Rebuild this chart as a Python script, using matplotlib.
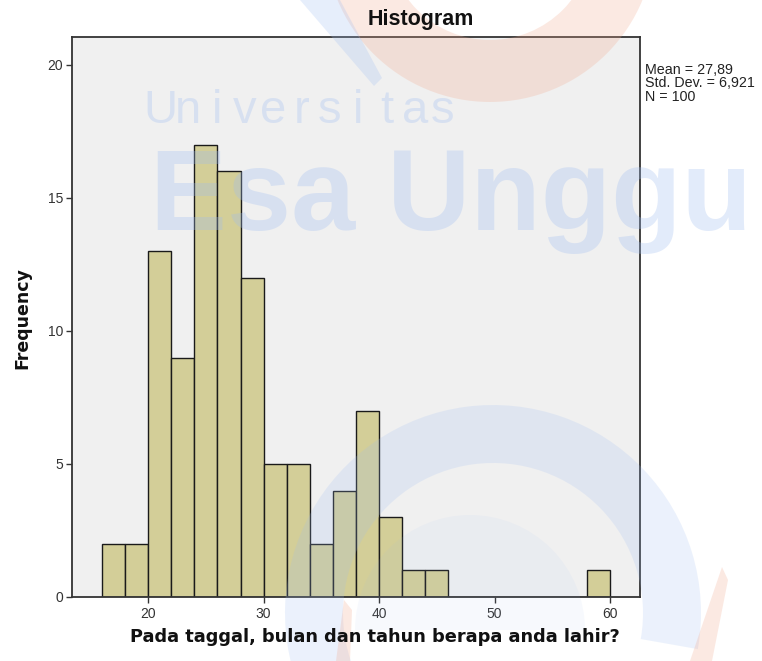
import numpy as np
import matplotlib
matplotlib.use('Agg')
import matplotlib.pyplot as plt
from matplotlib.patches import Wedge, Polygon

# histogram data (bin width 2, first bin starts at 16)
bin_left = list(range(16, 60, 2))
counts = [2, 2, 13, 9, 17, 16, 12, 5, 5, 2, 4, 7, 3, 1, 1,
          0, 0, 0, 0, 0, 0, 1]
bin_width = 2

x_ticks = [20, 30, 40, 50, 60]
y_ticks = [0, 5, 10, 15, 20]

stats_text = 'Mean = 27,89\nStd. Dev. = 6,921\nN = 100'
title = 'Histogram'
x_label = 'Pada taggal, bulan dan tahun berapa anda lahir?'
y_label = 'Frequency'

plt.rcParams['font.family'] = ['Liberation Sans', 'DejaVu Sans']

W, H = 762, 661
fig = plt.figure(figsize=(W / 100, H / 100), dpi=100)
fig.patch.set_facecolor('white')

ax = fig.add_axes([72 / W, 64 / H, 568 / W, 560 / H])
ax.set_facecolor('#f0f0f0')

ax.bar(bin_left, counts, width=bin_width, align='edge',
       color='#d3ce98', edgecolor='#1a1a1a', linewidth=1.0, zorder=2)

ax.set_xlim(13.4, 62.6)
ax.set_ylim(0, 21.05)
ax.set_xticks(x_ticks)
ax.set_yticks(y_ticks)
ax.tick_params(direction='out', length=4.5, width=1.0, colors='#333333',
               labelsize=10, pad=2)
ax.tick_params(axis='x', pad=3)
for s in ax.spines.values():
    s.set_color('#333333')
    s.set_linewidth(1.3)

# watermark (pixel coords from top-left)
def px(x, y):
    return (x / 100, (H - y) / 100)

tr = fig.dpi_scale_trans
orange = '#f2a88c'
blue = '#9fbdf0'

fig.patches.append(Wedge(px(490, -63), 1.65, 180, 360, width=0.62,
                         transform=tr, facecolor=orange, edgecolor='none',
                         alpha=0.25, zorder=10))
fig.patches.append(Polygon([px(300, 0), px(340, 0), px(382, 78), px(374, 86)],
                           closed=True, transform=tr, facecolor=blue,
                           edgecolor='none', alpha=0.25, zorder=10))
fig.patches.append(Wedge(px(493, 613), 2.08, -10, 205, width=0.58,
                         transform=tr, facecolor=blue, edgecolor='none',
                         alpha=0.2, zorder=10))
fig.patches.append(Wedge(px(470, 630), 1.15, 0, 180, width=1.15,
                         transform=tr, facecolor=blue, edgecolor='none',
                         alpha=0.08, zorder=10))
fig.patches.append(Polygon([px(336, 661), px(344, 600), px(352, 610),
                            px(350, 661)], closed=True, transform=tr,
                           facecolor=orange, edgecolor='none', alpha=0.25,
                           zorder=10))
fig.patches.append(Polygon([px(690, 661), px(722, 567), px(728, 580),
                            px(712, 661)], closed=True, transform=tr,
                           facecolor=orange, edgecolor='none', alpha=0.25,
                           zorder=10))

uni = 'Universitas'
for i, ch in enumerate(uni):
    fig.text((160 + i * 28.3) / W, 1 - 123 / H, ch, ha='center',
             va='baseline', fontsize=34, fontweight='light', color=blue,
             alpha=0.3, zorder=11)

fig.text(150 / W, 1 - 230 / H, 'Esa Unggu', ha='left', va='baseline',
         fontsize=83, fontweight='bold', color=blue, alpha=0.3, zorder=11)

# labels on top
fig.text(421 / W, 1 - 20 / H, title, ha='center', va='center',
         fontsize=15.5, fontweight='bold', color='#111111', zorder=12)
fig.text(375 / W, 1 - 637 / H, x_label, ha='center', va='center',
         fontsize=12.8, fontweight='bold', color='#111111', zorder=12,
         family=['DejaVu Sans'])
fig.text(22 / W, 1 - 318 / H, y_label, ha='center', va='center',
         rotation=90, fontsize=12.5, fontweight='bold', color='#111111',
         zorder=12, family=['DejaVu Sans'])
fig.text(645 / W, 1 - 63 / H, stats_text, ha='left', va='top',
         fontsize=10.3, linespacing=0.95, color='#222222', zorder=12)

fig.savefig('out.png', dpi=100)
